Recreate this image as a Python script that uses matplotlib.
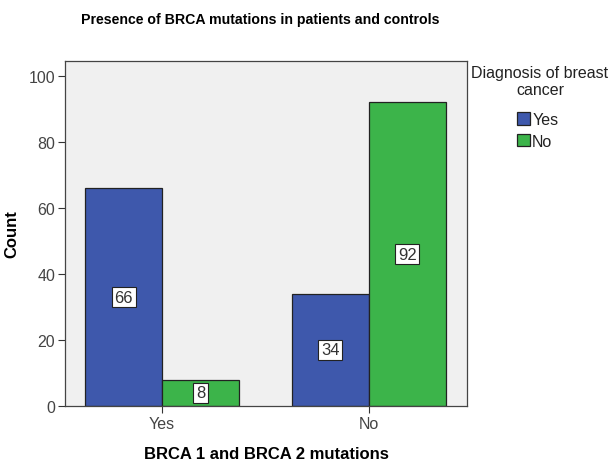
import matplotlib
matplotlib.use("Agg")
import matplotlib.pyplot as plt
import numpy as np

categories = ["Yes", "No"]
series_names = ["Yes", "No"]
values_yes = [66, 34]
values_no = [8, 92]
yticks = [0, 20, 40, 60, 80, 100]

plt.rcParams['font.family'] = ['Liberation Sans', 'DejaVu Sans']

fig = plt.figure(figsize=(6.12, 4.64), dpi=100)
ax = fig.add_axes([65/612, 1-407/464, (467-65)/612, (407-62)/464])
ax.set_facecolor('#F0F0F0')

x = np.arange(len(categories))
w = 0.372
colors = ['#3E58AC', '#3CB44A']
handles = []
for i, (vals, c, name) in enumerate(zip([values_yes, values_no], colors, series_names)):
    pos = x - w/2 + i*w
    bars = ax.bar(pos, vals, width=w, color=c, edgecolor='#222222', linewidth=0.9, label=name)
    handles.append(bars)
    for p, v in zip(pos, vals):
        ax.text(p, v/2, str(v), ha='center', va='center', fontsize=12, color='#333333',
                bbox=dict(boxstyle='square,pad=0.16', facecolor='white', edgecolor='#222222', linewidth=0.8))

ax.set_xlim(-0.47, 1.475)
ax.set_ylim(0, 104.5)
ax.set_xticks(x)
ax.set_xticklabels(categories, fontsize=11.5, color='#444444')
ax.set_yticks(yticks)
ax.set_yticklabels([str(t) for t in yticks], fontsize=11.5, color='#444444')
ax.tick_params(axis='both', length=5, width=0.8, color='#333333', pad=2)
for s in ax.spines.values():
    s.set_color('#444444')
    s.set_linewidth(0.9)

ax.set_xlabel('BRCA 1 and BRCA 2 mutations', fontsize=12, fontweight='bold', labelpad=11)
ax.set_ylabel('Count', fontsize=12, fontweight='bold', labelpad=7)
fig.text(260/612, 1-20/464, 'Presence of BRCA mutations in patients and controls', ha='center', va='center',
         fontsize=10.2, fontweight='bold')

fig.text(540/612, 1-66/464, 'Diagnosis of breast\ncancer', ha='center', va='top', fontsize=11.5,
         color='#222222', linespacing=1.15)
leg = fig.legend(handles=handles, labels=series_names, loc='upper left',
                 bbox_to_anchor=(517/612, 1-113/464), frameon=False, fontsize=11.5,
                 handlelength=0.8, handleheight=0.8, handletextpad=0.15, labelspacing=0.42,
                 borderpad=0.0, borderaxespad=0.0)
for t in leg.get_texts():
    t.set_color('#222222')

fig.savefig('out.png', dpi=100)
